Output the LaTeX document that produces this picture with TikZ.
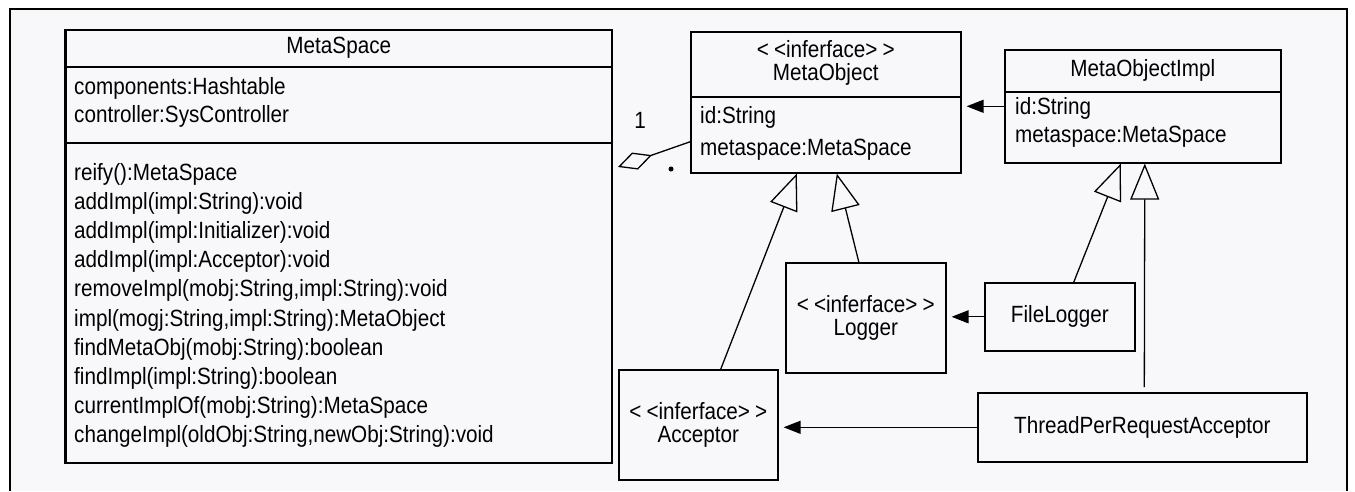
\documentclass[tikz,border=0pt]{standalone}
\usepackage{fontspec}
\setmainfont{Liberation Sans}[FakeStretch=0.88]
\usetikzlibrary{arrows.meta}

\definecolor{paper}{RGB}{248,248,250}
\newcommand\ifacetag{<\kern5pt<inferface>\kern5pt>}

\tikzset{
  classbox/.style={draw, line width=1.6pt, inner sep=0pt, anchor=north west, align=center},
  member/.style={anchor=base west, inner sep=0pt},
  realize/.style={-{Triangle[open,length=36pt,width=29pt]}, line width=1.3pt},
  calls/.style={-{Triangle[length=17pt,width=13pt]}, line width=1.3pt, shorten >=5pt},
  aggregate/.style={{Diamond[open,length=36pt,width=18pt]}-, line width=1.3pt},
}

\begin{document}
\begin{tikzpicture}[x=1pt, y=-1pt, font=\fontsize{23.5}{22.5}\selectfont]
  \useasboundingbox (0,0) rectangle (1355,491);
  \fill[paper] (10,9) rectangle (1347,491);
  \draw[line width=1.5pt] (10,491) -- (10,9) -- (1347,9) -- (1347,491);

  % MetaSpace
  \node[classbox, minimum width=546pt, minimum height=433pt] (metaspace) at (65,29) {};
  \draw[line width=3pt] (metaspace.north west) -- (metaspace.south west);
  \draw[line width=1.6pt] ([yshift=-38pt]metaspace.north west) -- ([yshift=-38pt]metaspace.north east);
  \draw[line width=1.6pt] ([yshift=-114pt]metaspace.north west) -- ([yshift=-114pt]metaspace.north east);
  \node (msname) at ([yshift=-19pt]metaspace.north) {MetaSpace};
  \node[member] (components) at (74,94) {components:Hashtable};
  \node[member] (controller) at (74,122) {controller:SysController};
  \foreach \op [count=\i from 0] in {reify():MetaSpace, addImpl(impl:String):void,
      addImpl(impl:Initializer):void, addImpl(impl:Acceptor):void,
      {removeImpl(mobj:String,impl:String):void}, {impl(mogj:String,impl:String):MetaObject},
      findMetaObj(mobj:String):boolean, findImpl(impl:String):boolean,
      currentImplOf(mobj:String):MetaSpace, {changeImpl(oldObj:String,newObj:String):void}}
    \node[member] (op\i) at (74,180+29.2*\i) {\op};

  % MetaObject
  \node[classbox, minimum width=270pt, minimum height=141pt] (metaobject) at (690,31) {};
  \draw[line width=1.6pt] ([yshift=-66pt]metaobject.north west) -- ([yshift=-66pt]metaobject.north east);
  \node (moname) at ([yshift=-32pt]metaobject.north) [align=center] {\ifacetag\\MetaObject};
  \node[member] (moid) at (700,123) {id:String};
  \node[member] (momspace) at (700,155) {metaspace:MetaSpace};

  % MetaObjectImpl
  \node[classbox, minimum width=276pt, minimum height=113pt] (metaobjimpl) at (1004,49) {};
  \draw[line width=1.6pt] ([yshift=-43pt]metaobjimpl.north west) -- ([yshift=-43pt]metaobjimpl.north east);
  \node (moiname) at ([yshift=-21pt]metaobjimpl.north) {MetaObjectImpl};
  \node[member] (moiid) at (1015,114) {id:String};
  \node[member] (moimspace) at (1015,142) {metaspace:MetaSpace};

  % the smaller classes
  \node[classbox, minimum width=160pt, minimum height=110pt] (logger) at (785,262) {\ifacetag\\Logger};
  \node[classbox, minimum width=150pt, minimum height=68pt] (filelogger) at (984,282) {FileLogger};
  \node[classbox, minimum width=159pt, minimum height=110pt] (acceptor) at (618,369) {\ifacetag\\Acceptor};
  \node[classbox, minimum width=329pt, minimum height=69pt] (tpra) at (977,392) {ThreadPerRequestAcceptor};

  % aggregation
  \coordinate (whole) at (618,167);
  \draw[aggregate] (whole) -- ([yshift=-39.5pt]metaobject.west);
  \node (multone) at (640,120) {1};
  \node[circle, fill, inner sep=0pt, minimum size=5pt] (multmany) at (671,169) {};

  % associations
  \draw[calls] (metaobjimpl.west) -- (metaobject.east |- metaobjimpl.west);
  \draw[calls] (filelogger.west) -- (logger.east |- filelogger.west);
  \draw[calls] (tpra.west) -- (acceptor.east |- tpra.west);

  % generalisations
  \draw[realize] ([xshift=22.5pt]acceptor.north) -- ([xshift=-29pt]metaobject.south);
  \draw[realize] ([xshift=-7pt]logger.north) -- ([xshift=11pt]metaobject.south);
  \draw[realize] ([xshift=14pt]filelogger.north) -- ([xshift=-22pt]metaobjimpl.south);
  \draw[realize, shorten <=5pt] ([xshift=2pt]tpra.north) -- ([xshift=2pt]metaobjimpl.south);
\end{tikzpicture}
\end{document}
